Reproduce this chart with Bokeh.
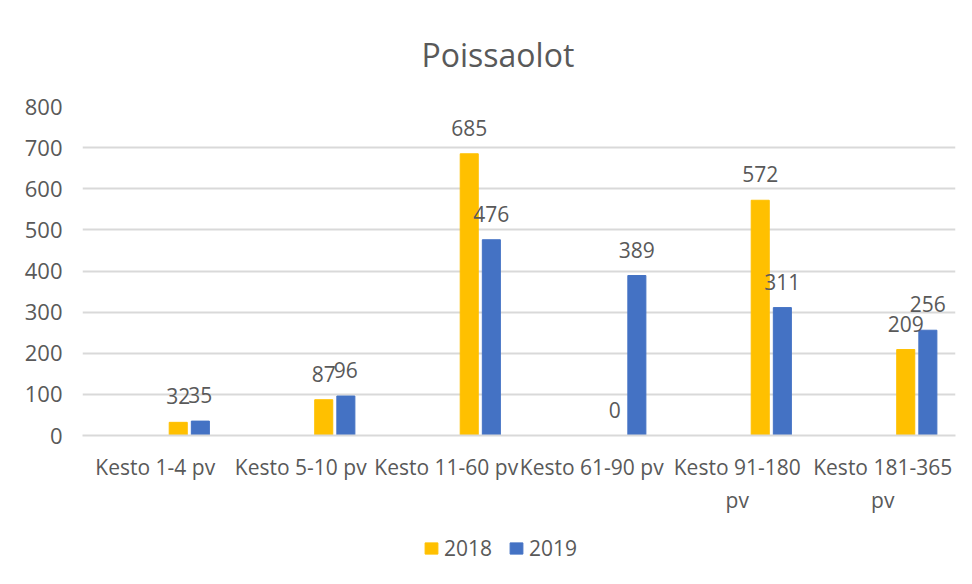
import numpy as np
from bokeh.plotting import figure
from bokeh.layouts import column
from bokeh.core.properties import value
from bokeh.models import (ColumnDataSource, LabelSet, Legend, LegendItem,
                          FixedTicker, Range1d, Title)
from bokeh.embed import file_html
from bokeh.resources import INLINE

# ---- data ----
categories = ["Kesto 1-4 pv", "Kesto 5-10 pv", "Kesto 11-60 pv",
              "Kesto 61-90 pv", "Kesto 91-180 pv", "Kesto 181-365 pv"]
tick_labels = ["Kesto 1-4 pv", "Kesto 5-10 pv", "Kesto 11-60 pv",
               "Kesto 61-90 pv", "Kesto 91-180\npv", "Kesto 181-365\npv"]
series_names = ["2018", "2019"]
values_2018 = [32, 87, 685, 0, 572, 209]
values_2019 = [35, 96, 476, 389, 311, 256]
y_ticks = [0, 100, 200, 300, 400, 500, 600, 700, 800]

# ---- style ----
FONT = "Open Sans"
TEXT = "#595959"
C2018 = "#FFC000"
C2019 = "#4472C4"
GRID = "#D9D9D9"

idx = np.arange(len(categories))
centers = idx + 0.5
src = ColumnDataSource(dict(
    x18=centers + 0.158, x19=centers + 0.31,
    v18=values_2018, v19=values_2019,
    t18=[str(v) for v in values_2018], t19=[str(v) for v in values_2019],
))

p = figure(width=956, height=524, output_backend="svg", toolbar_location=None,
           x_range=Range1d(0, len(categories)), y_range=Range1d(0, 800),
           min_border_left=82, min_border_right=1, min_border_top=106,
           min_border_bottom=89)
p.outline_line_color = None
p.background_fill_color = "white"
p.border_fill_color = "white"

r18 = p.vbar(x="x18", top="v18", width=0.124, source=src, color=C2018)
r19 = p.vbar(x="x19", top="v19", width=0.124, source=src, color=C2019)

for xc, yc, tc in (("x18", "v18", "t18"), ("x19", "v19", "t19")):
    p.add_layout(LabelSet(x=xc, y=yc, text=tc, source=src, y_offset=18,
                          text_align="center", text_baseline="alphabetic",
                          text_font=value(FONT), text_font_size="21px",
                          text_color=TEXT))

# axes
p.xgrid.grid_line_color = None
p.ygrid.grid_line_color = GRID
p.ygrid.grid_line_width = 2
p.yaxis.ticker = FixedTicker(ticks=y_ticks)
p.yaxis.axis_line_color = None
p.yaxis.major_tick_line_color = None
p.yaxis.minor_tick_line_color = None
p.yaxis.major_label_standoff = 14
p.yaxis.major_label_text_font = FONT
p.yaxis.major_label_text_font_size = "22px"
p.yaxis.major_label_text_color = TEXT

p.xaxis.ticker = FixedTicker(ticks=list(centers))
p.xaxis.major_label_overrides = {float(c): lab for c, lab in zip(centers, tick_labels)}
p.xaxis.axis_line_color = GRID
p.xaxis.axis_line_width = 2
p.xaxis.major_tick_line_color = None
p.xaxis.minor_tick_line_color = None
p.xaxis.major_label_standoff = 11
p.xaxis.major_label_text_font = FONT
p.xaxis.major_label_text_font_size = "21px"
p.xaxis.major_label_text_color = TEXT

# title
title = Title(text="Poissaolot", align="left", text_font=FONT,
              text_font_size="32px", text_font_style="normal",
              text_color=TEXT, offset=339, standoff=61)
p.add_layout(title, "above")

# legend figure: legend swatches from hidden copies of the two bar series
pl = figure(width=956, height=44, output_backend="svg", toolbar_location=None,
            x_range=Range1d(0, 1), y_range=Range1d(0, 1),
            x_axis_location=None, y_axis_location=None,
            min_border_left=0, min_border_right=0, min_border_top=0,
            min_border_bottom=0)
pl.outline_line_color = None
pl.grid.grid_line_color = None
l18 = pl.vbar(x="x18", top="v18", width=0.124, source=src, color=C2018, visible=False)
l19 = pl.vbar(x="x19", top="v19", width=0.124, source=src, color=C2019, visible=False)
legend = Legend(items=[LegendItem(label=series_names[0], renderers=[l18]),
                       LegendItem(label=series_names[1], renderers=[l19])],
                orientation="horizontal", location=(341, 6),
                glyph_width=16, glyph_height=14, label_standoff=5, spacing=16,
                padding=0, margin=0, border_line_color=None,
                background_fill_alpha=0, inactive_fill_alpha=0,
                label_text_font=FONT, label_text_font_size="21px",
                label_text_color=TEXT)
pl.add_layout(legend, "center")

layout = column(p, pl, spacing=0)
open("out.html", "w").write(file_html(layout, INLINE))
